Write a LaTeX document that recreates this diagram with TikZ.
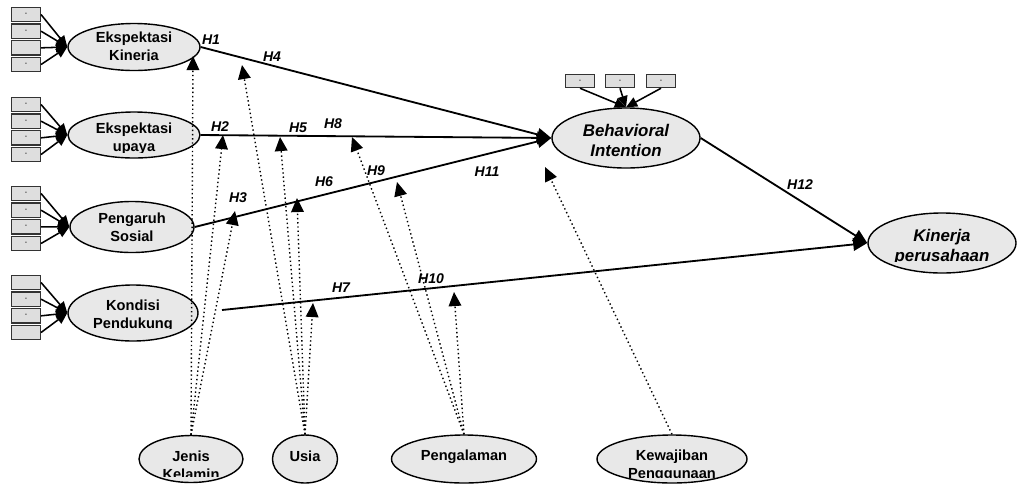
\documentclass[tikz,border=0pt]{standalone}
\usepackage{fontspec}
\setmainfont{Liberation Sans}
\usetikzlibrary{positioning,arrows.meta,shapes.geometric}

\begin{document}
\begin{tikzpicture}[x=0.025cm, y=-0.025cm,
    latent/.style={ellipse, draw=black, fill=black!9, line width=1pt, inner sep=0pt},
    item/.style={draw=black!80, fill=black!13, line width=0.9pt, minimum width=0.72cm, minimum height=0.36cm, inner sep=0pt, font=\fontsize{5}{5}\selectfont},
    lbl/.style={font=\fontsize{10.4}{12.8}\selectfont\bfseries, align=center, inner sep=0pt},
    lblit/.style={font=\fontsize{12}{14.2}\selectfont\bfseries\itshape, align=center, inner sep=0pt},
    hyp/.style={font=\fontsize{10}{12}\selectfont\bfseries\itshape, inner sep=0pt},
    link/.style={line width=1.3pt, -{Triangle[length=10pt,width=9pt]}},
    load/.style={line width=1.1pt, -{Triangle[length=8pt,width=7pt]}},
    moder/.style={dotted, line width=1pt, -{Triangle[length=10pt,width=9pt]}},
]
\useasboundingbox (0,0) rectangle (1020,483);

% --- latent constructs (text cut off at the bottom as printed) ---
\foreach \nm/\cx/\cy/\w/\h/\ty/\cut/\txt in {
    ek/134/47/132/47/47.5/60.5/{Ekspektasi\\Kinerja},
    eu/134/135/132/46/138.5/152.5/{Ekspektasi\\upaya},
    ps/132/227/124/51/227.5/300/{Pengaruh\\Sosial},
    kp/133/313/130/56/316/328.5/{Kondisi\\Pendukung},
    jk/191/459/104/47/465.5/476/{Jenis\\Kelamin},
    us/305/459/65/48/456/500/{Usia},
    pg/464/459/145/48/457/500/{Pengalaman},
    kw/672/459/150/48/465.5/477/{Kewajiban\\Penggunaan}} {
    \node[latent, minimum width=\w*0.025cm, minimum height=\h*0.025cm] (\nm) at (\cx,\cy) {};
    \begin{scope}
    \clip (\cx-90,\cy-40) rectangle (\cx+90,\cut);
    \node[lbl] (\nm-txt) at (\cx,\ty) {\txt};
    \end{scope}
}

\foreach \nm/\cx/\cy/\ty/\cut/\txt in {
    bi/626/138/140/300/{Behavioral\\Intention},
    ki/942/243/247/261.5/{Kinerja\\perusahaan}} {
    \node[latent, minimum width=3.7cm, minimum height=1.5cm] (\nm) at (\cx,\cy) {};
    \begin{scope}
    \clip (\cx-90,\cy-40) rectangle (\cx+90,\cut);
    \node[lblit] (\nm-txt) at (\cx,\ty) {\txt};
    \end{scope}
}

% --- indicators ---
\foreach \nm/\by/\ma/\mb/\mc/\md in {ek/14.5/-/-/{}/-, eu/104.5/-/-/-/-, ps/193.5/-/-/-/-, kp/282.5/{}/-/-/{}} {
    \foreach \i/\mk in {0/\ma, 1/\mb, 2/\mc, 3/\md} {
        \node[item] (\nm-i\i) at (26,\by+\i*16.67) {\mk};
        \draw[load] (\nm-i\i.east) -- (\nm.west);
    }
}
\foreach \i/\x in {1/580, 2/620, 3/661} {
    \node[item, minimum height=0.33cm] (bi-i\i) at (\x,81) {-};
    \draw[load] (bi-i\i.south) -- (bi.north);
}

% --- structural paths ---
\coordinate (kp-out) at (222,310);
\draw[link] (ek.east) -- (bi.west);
\draw[link] (eu.east) -- (bi.west);
\draw[link] (ps.east) -- (bi.west);
\draw[link] (kp-out) -- (ki.west);
\draw[link] (bi.east) -- (ki.west);

% --- moderating effects ---
\foreach \src/\hn/\x/\y in {jk/1/193/56, jk/2/223/135, jk/3/235/211,
    us/4/242/65, us/5/280/137, us/6/297/198, us/7/313/303,
    pg/8/352/137, pg/9/397/182, pg/10/454/292, kw/11/545/167} {
    \coordinate (mod\hn) at (\x,\y);
    \draw[moder] (\src.north) -- (mod\hn);
}

% --- hypothesis labels ---
\foreach \hn/\x/\y in {1/211/40, 2/220/127, 3/238/198, 4/272/57, 5/298/128, 6/324/182,
    7/341/288, 8/333/124, 9/376/171, 10/431/279, 11/487/172, 12/800/185} {
    \node[hyp] (h\hn) at (\x,\y) {H\hn};
}

\end{tikzpicture}
\end{document}
